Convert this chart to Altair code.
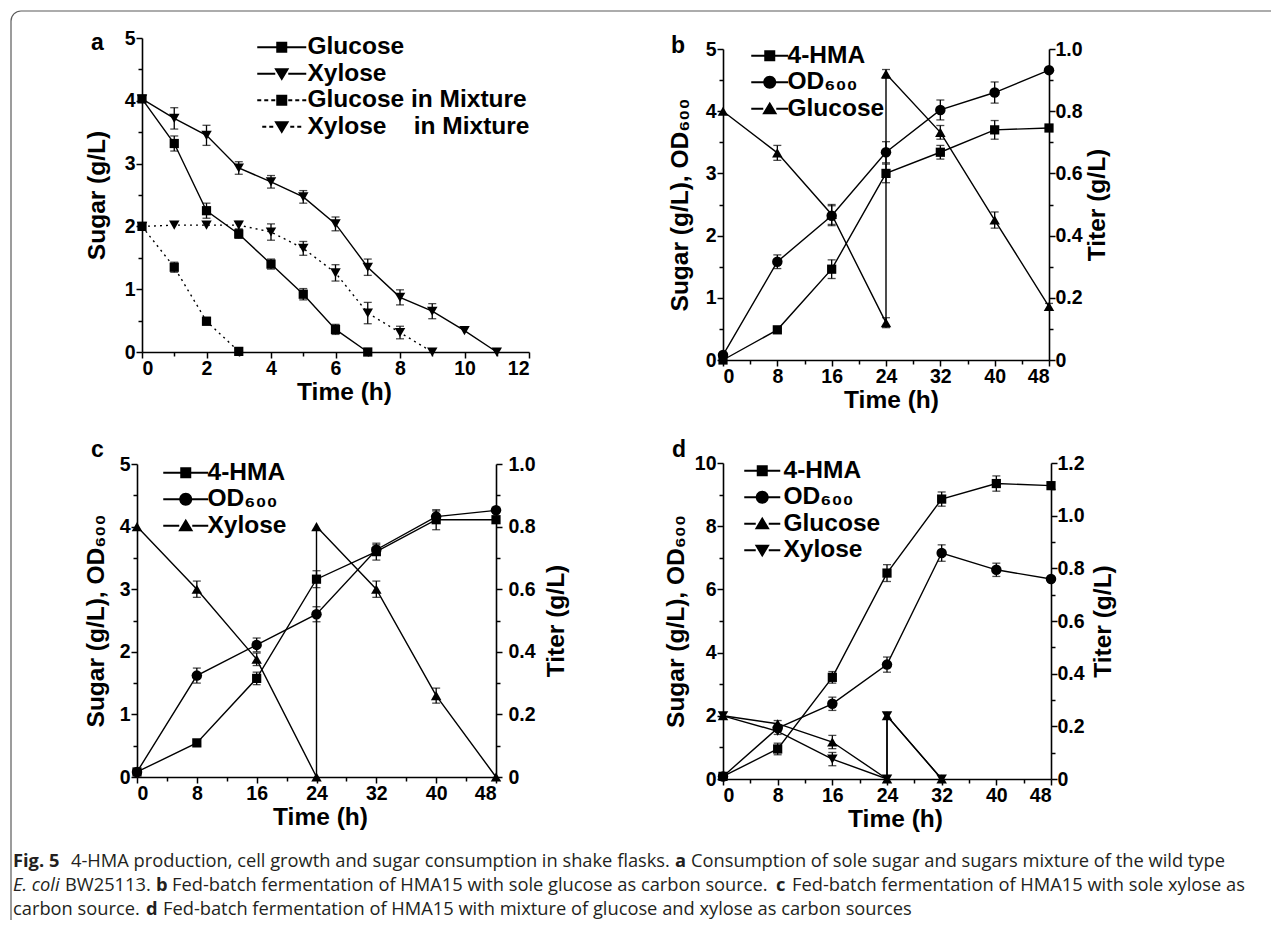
import altair as alt
import pandas as pd

FONT = "Liberation Sans Narrow, Arial Narrow, Liberation Sans, Arial, sans-serif"
LETTER_FONT = "Liberation Sans, Arial, sans-serif"
CAP_FONT = "Open Sans, Noto Sans, sans-serif"

# ---------------- data ----------------
# Panel a : sugar consumption of wild type (x: h, y: g/L)
a_t_glc = [0, 1, 2, 3, 4, 5, 6, 7]
a_glc = [4.03, 3.32, 2.25, 1.88, 1.40, 0.92, 0.36, 0.0]
a_glc_err = [0, 0.12, 0.12, 0.07, 0.08, 0.09, 0.08, 0]
a_t_xyl = [0, 1, 2, 3, 4, 5, 6, 7, 8, 9, 10, 11]
a_xyl = [4.03, 3.72, 3.45, 2.93, 2.71, 2.47, 2.04, 1.35, 0.87, 0.65, 0.34, 0.0]
a_xyl_err = [0, 0.17, 0.16, 0.10, 0.10, 0.10, 0.11, 0.13, 0.12, 0.12, 0, 0]
a_t_glcm = [0, 1, 2, 3]
a_glcm = [2.0, 1.35, 0.49, 0.01]
a_glcm_err = [0, 0.08, 0.06, 0]
a_t_xylm = [0, 1, 2, 3, 4, 5, 6, 7, 8, 9]
a_xylm = [2.0, 2.02, 2.02, 2.02, 1.91, 1.65, 1.26, 0.62, 0.31, 0.0]
a_xylm_err = [0, 0, 0, 0.06, 0.13, 0.11, 0.13, 0.17, 0.10, 0]

# Panel b : sole glucose
b_t = [0, 8, 16, 24, 32, 40, 48]
b_t_sugar = [0, 8, 16, 24, 24, 32, 40, 48]
b_glc = [4.0, 3.33, 2.34, 0.60, 4.60, 3.66, 2.25, 0.86]
b_glc_err = [0, 0.12, 0.16, 0.08, 0.07, 0.11, 0.13, 0.05]
b_od = [0.08, 1.58, 2.32, 3.34, 4.02, 4.30, 4.66]
b_od_err = [0, 0.11, 0.16, 0.17, 0.16, 0.17, 0]
b_hma = [0.0, 0.097, 0.292, 0.600, 0.668, 0.740, 0.746]
b_hma_err = [0, 0.005, 0.030, 0.030, 0.022, 0.030, 0]

# Panel c : sole xylose
c_t = [0, 8, 16, 24, 32, 40, 48]
c_t_sugar = [0, 8, 16, 24, 24, 32, 40, 48]
c_xyl = [4.0, 3.0, 1.88, 0.0, 4.0, 3.0, 1.30, 0.0]
c_xyl_err = [0, 0.13, 0.10, 0, 0, 0.13, 0.12, 0]
c_od = [0.08, 1.62, 2.11, 2.60, 3.63, 4.16, 4.26]
c_od_err = [0, 0.12, 0.11, 0.12, 0.08, 0.09, 0]
c_hma = [0.016, 0.109, 0.315, 0.632, 0.720, 0.822, 0.822]
c_hma_err = [0, 0, 0.020, 0.027, 0.027, 0.032, 0]

# Panel d : glucose + xylose mixture
d_t = [0, 8, 16, 24, 32, 40, 48]
d_t_sugar = [0, 8, 16, 24, 24, 32]
d_glc = [2.0, 1.75, 1.17, 0.0, 2.0, 0.0]
d_glc_err = [0, 0.10, 0.21, 0, 0, 0]
d_xyl = [2.0, 1.51, 0.63, 0.0, 2.0, 0.0]
d_xyl_err = [0, 0.10, 0.21, 0, 0, 0]
d_od = [0.08, 1.61, 2.38, 3.62, 7.15, 6.62, 6.33]
d_od_err = [0, 0.10, 0.21, 0.24, 0.26, 0.21, 0]
d_hma = [0.010, 0.114, 0.386, 0.782, 1.063, 1.122, 1.114]
d_hma_err = [0, 0.022, 0.022, 0.032, 0.027, 0.029, 0]

legend_a = ["Glucose", "Xylose", "Glucose in Mixture", "Xylose\u00a0\u00a0\u00a0\u00a0in Mixture"]
legend_b = ["4-HMA", "OD\u2086\u2080\u2080", "Glucose"]
legend_c = ["4-HMA", "OD\u2086\u2080\u2080", "Xylose"]
legend_d = ["4-HMA", "OD\u2086\u2080\u2080", "Glucose", "Xylose"]

caption_lines = [
    [("Fig. 5", "bold", "normal", 12), ("4-HMA production, cell growth and sugar consumption in shake flasks.", "normal", "normal", 70),
     ("a", "bold", "normal", 674), ("Consumption of sole sugar and sugars mixture of the wild type", "normal", "normal", 690)],
    [("E. coli", "normal", "italic", 12), ("BW25113.", "normal", "normal", 64), ("b", "bold", "normal", 155),
     ("Fed-batch fermentation of HMA15 with sole glucose as carbon source.", "normal", "normal", 171),
     ("c", "bold", "normal", 775), ("Fed-batch fermentation of HMA15 with sole xylose as", "normal", "normal", 791)],
    [("carbon source.", "normal", "normal", 12), ("d", "bold", "normal", 145),
     ("Fed-batch fermentation of HMA15 with mixture of glucose and xylose as carbon sources", "normal", "normal", 162)],
]
caption_y = [862, 886, 910]

# ---------------- helpers ----------------
S = 5.0  # legend path unit in px (symbolSize 100)


def rect(x0, y0, x1, y1):
    return f"M{x0/S:.3f},{y0/S:.3f}H{x1/S:.3f}V{y1/S:.3f}H{x0/S:.3f}Z"


def marker(kind):
    if kind == "square":
        return rect(-5.5, -5.5, 5.5, 5.5), 5.5
    if kind == "circle":
        r = 6.5 / S
        return f"M{r:.3f},0A{r:.3f},{r:.3f} 0 1,1 {-r:.3f},0A{r:.3f},{r:.3f} 0 1,1 {r:.3f},0Z", 6.5
    if kind == "up":
        return f"M0,{-7/S:.3f}L{7.5/S:.3f},{5.5/S:.3f}L{-7.5/S:.3f},{5.5/S:.3f}Z", 7.5
    return f"M0,{7/S:.3f}L{-7.5/S:.3f},{-5.5/S:.3f}L{7.5/S:.3f},{-5.5/S:.3f}Z", 7.5


def legend_path(kind, L, dotted=False):
    m, half = marker(kind)
    parts = [m]
    if dotted:
        x = half + 1
        while x + 3 <= L:
            parts.append(rect(x, -1, x + 4, 1))
            parts.append(rect(-x - 4, -1, -x, 1))
            x += 7
    else:
        parts.append(rect(-L, -1, -half + 1, 1))
        parts.append(rect(half - 1, -1, L, 1))
    return "".join(parts)


def sdf(t, v, e):
    return pd.DataFrame({"t": t, "v": v, "e": e, "i": list(range(len(t)))})


def err_df(df):
    d = df[df["e"] > 0].copy()
    d["lo"] = d["v"] - d["e"]
    d["hi"] = d["v"] + d["e"]
    return d


def cap_df(df):
    d = err_df(df)
    return pd.DataFrame({"t": list(d["t"]) * 2, "c": list(d["lo"]) + list(d["hi"])})


SHAPES = {"square": "square", "circle": "circle", "up": "triangle-up", "down": "triangle-down"}
SIZES = {"square": 85, "circle": 110, "up": 110, "down": 110}


def series_layers(df, kind, X, yscale, yaxis, dash=None):
    line_kw = dict(color="black", strokeWidth=1.4)
    if dash:
        line_kw["strokeDash"] = dash
    line = alt.Chart(df).mark_line(**line_kw).encode(
        x=X, y=alt.Y("v:Q", scale=yscale, axis=yaxis), order="i:Q")
    pts = alt.Chart(df).mark_point(shape=SHAPES[kind], filled=True, color="black", opacity=1,
                                   size=SIZES[kind], strokeWidth=0).encode(
        x=X, y=alt.Y("v:Q", scale=yscale, axis=yaxis))
    out = [line, pts]
    if (df["e"] > 0).any():
        rule = alt.Chart(err_df(df)).mark_rule(color="black", strokeWidth=1.3).encode(
            x=X, y=alt.Y("lo:Q", scale=yscale, axis=yaxis), y2="hi:Q")
        caps = alt.Chart(cap_df(df)).mark_tick(orient="horizontal", size=8, thickness=1.3,
                                               color="black").encode(
            x=X, y=alt.Y("c:Q", scale=yscale, axis=yaxis))
        out += [rule, caps]
    return out


def frac_values(top, step):
    n = int(round(top / step))
    return [round(i * step, 4) for i in range(n + 1)]


def axis_x(values, major, title_x):
    test = f"round(datum.value) % {major} === 0"
    return alt.Axis(values=values, title="Time (h)",
                    labelExpr=f"{test} ? format(datum.value, '.0f') : ''",
                    tickSize={"condition": {"test": test, "value": 6}, "value": 4},
                    grid=False, titlePadding=3, labelPadding=1, titleX=title_x)


def axis_left(values, major, title, offset=0, titlePadding=10):
    test = f"abs(datum.value/{major} - round(datum.value/{major})) < 0.001"
    return alt.Axis(values=values, title=title,
                    labelExpr=f"{test} ? format(datum.value, '.0f') : ''",
                    tickSize={"condition": {"test": test, "value": 6}, "value": 4},
                    offset=offset, grid=False, titlePadding=titlePadding, labelPadding=1)


def axis_right(values, title, titlePadding=4, labelPadding=0):
    test = "round(datum.value*10) % 2 === 0"
    return alt.Axis(values=values, title=title, orient="right",
                    labelExpr=f"{test} ? (datum.value === 0 ? '0' : format(datum.value, '.1f')) : ''",
                    tickSize={"condition": {"test": test, "value": 6}, "value": 4},
                    grid=False, titlePadding=titlePadding, labelPadding=labelPadding,
                    titleAngle=270, titleBaseline="top")


def legend_layer(names, paths, X, yscale, yaxis, lx, ly, loff, rowpad=1.5):
    df = pd.DataFrame({"name": names, "t": [0] * len(names), "v": [0] * len(names)})
    return alt.Chart(df).transform_filter("false").mark_point(
        filled=True, color="black", opacity=1).encode(
        x=X, y=alt.Y("v:Q", scale=yscale, axis=yaxis),
        shape=alt.Shape("name:N", scale=alt.Scale(domain=names, range=paths),
                        legend=alt.Legend(orient="none", legendX=lx, legendY=ly, title=None,
                                          labelFont=FONT, labelFontSize=24.5, labelFontWeight="bold",
                                          labelColor="black", symbolSize=100, symbolStrokeWidth=0,
                                          symbolFillColor="black", symbolOpacity=1, labelOffset=loff,
                                          rowPadding=rowpad, labelLimit=500)))


def letter(ch, x, y):
    return alt.Chart(pd.DataFrame({"l": [ch]})).mark_text(
        align="left", baseline="alphabetic", font=LETTER_FONT, fontSize=23, fontWeight="bold",
        color="black").encode(text="l:N", x=alt.value(x), y=alt.value(y))


# ---------------- panel a ----------------
Wa, Ha = 392, 314
Xa = alt.X("t:Q", scale=alt.Scale(domain=[0, 12], range=[5, Wa], nice=False, zero=False),
           axis=axis_x(list(range(13)), 2, 207))
Ya_s = alt.Scale(domain=[0, 5], range=[Ha, 0], nice=False, zero=False)
Ya_ax = axis_left(frac_values(5, 0.5), 1, "Sugar (g/L)", offset=-5, titlePadding=15)
layers_a = []
layers_a += series_layers(sdf(a_t_glc, a_glc, a_glc_err), "square", Xa, Ya_s, Ya_ax)
layers_a += series_layers(sdf(a_t_xyl, a_xyl, a_xyl_err), "down", Xa, Ya_s, Ya_ax)
layers_a += series_layers(sdf(a_t_glcm, a_glcm, a_glcm_err), "square", Xa, Ya_s, Ya_ax, dash=[2, 4])
layers_a += series_layers(sdf(a_t_xylm, a_xylm, a_xylm_err), "down", Xa, Ya_s, Ya_ax, dash=[2, 4])
paths_a = [legend_path("square", 24.5), legend_path("down", 24.5),
           legend_path("square", 24.5, True), legend_path("down", 24.5, True)]
layers_a.append(legend_layer(legend_a, paths_a, Xa, Ya_s, Ya_ax, 132.5, -3, 13.5))
layers_a.append(letter("a", -46, 12))
panel_a = alt.layer(*layers_a).properties(width=Wa, height=Ha)


# ---------------- dual-axis panels ----------------
def dual_panel(W, H, yrange, ymax_left, left_major, left_minor, ymax_right, t, t_sugar,
               sugars, od, od_err, hma, hma_err, names, L, lx, ly, loff, let, letx, lety,
               rtp, rlp, ltp, tx):
    X = alt.X("t:Q", scale=alt.Scale(domain=[0, 48], range=[0, W], nice=False, zero=False),
              axis=axis_x(list(range(0, 49, 4)), 8, tx))
    yl_s = alt.Scale(domain=[0, ymax_left], range=yrange, nice=False, zero=False)
    yl_ax = axis_left(frac_values(ymax_left, left_minor), left_major, "Sugar (g/L), OD\u2086\u2080\u2080",
                      titlePadding=ltp)
    yr_s = alt.Scale(domain=[0, ymax_right], range=yrange, nice=False, zero=False)
    yr_ax = axis_right(frac_values(ymax_right, 0.1), "Titer (g/L)", titlePadding=rtp, labelPadding=rlp)
    left = []
    left += series_layers(sdf(t, od, od_err), "circle", X, yl_s, yl_ax)
    for kind, vals, errs in sugars:
        left += series_layers(sdf(t_sugar, vals, errs), kind, X, yl_s, yl_ax)
    kinds = ["square", "circle"] + [s[0] for s in sugars]
    paths = [legend_path(k, L) for k in kinds]
    left.append(legend_layer(names, paths, X, yl_s, yl_ax, lx, ly, loff))
    left.append(letter(let, letx, lety))
    right = series_layers(sdf(t, hma, hma_err), "square", X, yr_s, yr_ax)
    return alt.layer(alt.layer(*left), alt.layer(*right)).resolve_scale(y="independent").properties(
        width=W, height=H)


panel_b = dual_panel(326, 322, [322, 11], 5, 1, 0.5, 1.0, b_t, b_t_sugar,
                     [("up", b_glc, b_glc_err)], b_od, b_od_err, b_hma, b_hma_err,
                     legend_b, 18.5, 34.5, 5.5, 5.5, "b", -52, 15, 3, 0, 13, 168)
panel_c = dual_panel(359, 314, [314, 1], 5, 1, 0.5, 1.0, c_t, c_t_sugar,
                     [("up", c_xyl, c_xyl_err)], c_od, c_od_err, c_hma, c_hma_err,
                     legend_c, 22.5, 36.5, -2.5, 9.5, "c", -46, -6, 9, 6, 11, 183)
panel_d = dual_panel(328, 316, [316, 0], 10, 2, 1, 1.2, d_t, d_t_sugar,
                     [("up", d_glc, d_glc_err), ("down", d_xyl, d_xyl_err)], d_od, d_od_err,
                     d_hma, d_hma_err, legend_d, 18, 27, -4.5, 9, "d", -51, -6, 7, 0, 6, 172)

# ---------------- caption + frame ----------------
CAP_X0, CAP_Y0 = 136, 882
cap_base = alt.Chart(pd.DataFrame({"d": [0]}))
cap_layers = []
for line, yy in zip(caption_lines, caption_y):
    for txt, weight, style, xx in line:
        cap_layers.append(cap_base.mark_text(
            align="left", baseline="middle", font=CAP_FONT, fontSize=18.3, fontWeight=weight,
            fontStyle=style, color="#231f20").encode(
            text=alt.value(txt), x=alt.value(xx - CAP_X0), y=alt.value(yy - CAP_Y0)))
FR = "#5a5a5a"
cap_layers.append(cap_base.mark_rule(color=FR, strokeWidth=1.2).encode(
    x=alt.value(20 - CAP_X0), x2=alt.value(1270 - CAP_X0), y=alt.value(11 - CAP_Y0)))
cap_layers.append(cap_base.mark_rule(color=FR, strokeWidth=1.2).encode(
    x=alt.value(10 - CAP_X0), y=alt.value(21 - CAP_Y0), y2=alt.value(920 - CAP_Y0)))
cap_layers.append(cap_base.mark_arc(theta=4.7124, theta2=6.2832, radius=10.6, radius2=9.4,
                                    color=FR).encode(
    x=alt.value(20 - CAP_X0), y=alt.value(21 - CAP_Y0)))
caption = alt.layer(*cap_layers).properties(width=2, height=30)

chart = alt.concat(panel_a, panel_b, panel_c, panel_d, caption, columns=2,
                   spacing={"row": 103, "column": 194}, bounds="flush").resolve_scale(
    shape="independent").resolve_legend(shape="independent").properties(
    padding=2, background="white"
).configure_view(stroke=None).configure_axis(
    labelFont=FONT, labelFontSize=19.5, labelFontWeight="bold", labelColor="black",
    titleFont=FONT, titleFontSize=24.5, titleFontWeight="bold", titleColor="black",
    domainColor="black", domainWidth=1.6, tickColor="black", tickWidth=1.5,
)

chart.save("out.html", embed_options={"renderer": "svg", "actions": False})
